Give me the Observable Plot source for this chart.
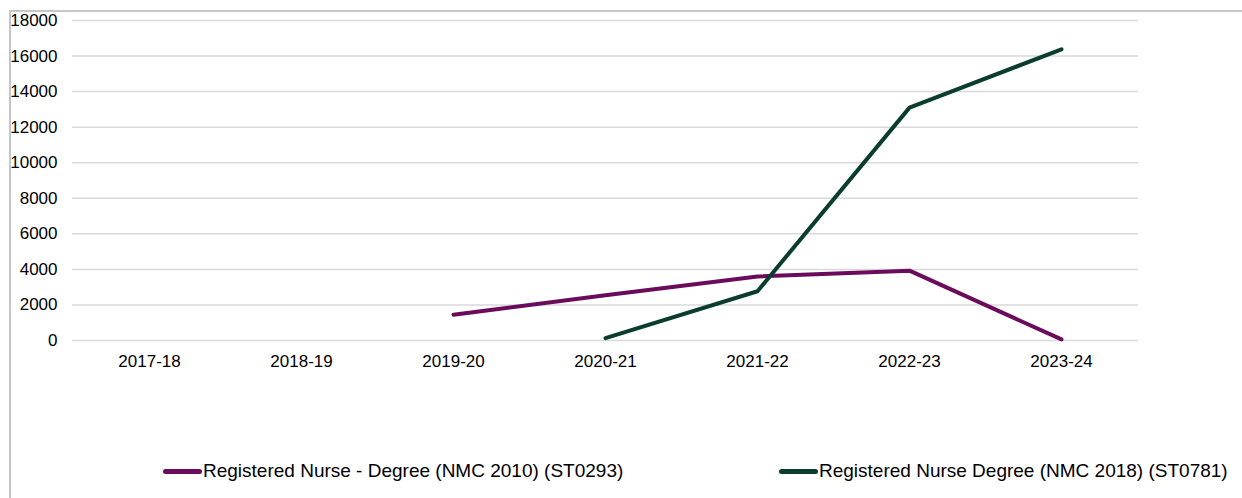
<!DOCTYPE html>
<html>
<head>
<meta charset="utf-8">
<script src="https://cdn.jsdelivr.net/npm/d3@7"></script>
<script src="https://cdn.jsdelivr.net/npm/@observablehq/plot@0.6"></script>
<style>
  html, body { margin: 0; padding: 0; background: #fff; overflow: hidden; }
  body { width: 1242px; height: 498px; position: relative; font-family: "Liberation Sans", Arial, sans-serif; }
  #frame { position: absolute; left: 9px; top: 10px; width: 1300px; height: 600px;
           border-top: 2px solid #c6c6c6; border-left: 2px solid #c6c6c6; }
  #chart { position: absolute; left: 0; top: 0; }
  #legend { position: absolute; top: 459px; left: 0; width: 1242px; height: 24px; font-size: 19px; line-height: 24px; color: #000; }
  .item { position: absolute; top: 0; height: 24px; display: flex; align-items: center; white-space: nowrap; }
  .swatch { width: 39px; height: 5px; border-radius: 2.5px; margin-right: 1px; }
</style>
</head>
<body>
<div id="frame"></div>
<div id="chart"></div>
<div id="legend"></div>
<script>
// Academic years on the x axis
const years = ["2017-18", "2018-19", "2019-20", "2020-21", "2021-22", "2022-23", "2023-24"];

// Starts per year for each apprenticeship standard (null = not yet running)
const nurse2010 = [null, null, 1450, 2550, 3600, 3930, 60];
const nurse2018 = [null, null, null, 130, 2770, 13100, 16380];

const seriesNames = [
  "Registered Nurse - Degree (NMC 2010) (ST0293)",
  "Registered Nurse Degree (NMC 2018) (ST0781)"
];
const seriesColors = ["#6b0b5b", "#0b3d2e"];

const yTicks = [0, 2000, 4000, 6000, 8000, 10000, 12000, 14000, 16000, 18000];

// Long-form rows for Plot, dropping years with no value
const rows = [];
[nurse2010, nurse2018].forEach((vals, i) => {
  vals.forEach((v, j) => {
    if (v != null) rows.push({ year: years[j], value: v, series: seriesNames[i] });
  });
});

const chart = Plot.plot({
  width: 1242,
  height: 380,
  marginLeft: 72,
  marginRight: 104,
  marginTop: 20,
  marginBottom: 40,
  style: { fontFamily: "'Liberation Sans', Arial, sans-serif", fontSize: "17px", color: "#000", background: "transparent" },
  x: { type: "point", domain: years, padding: 0.5, label: null, tickSize: 0, tickPadding: 15 },
  y: { domain: [0, 18000], ticks: yTicks, label: null, tickSize: 0, tickPadding: 15, tickFormat: d => String(d) },
  color: { domain: seriesNames, range: seriesColors },
  marks: [
    Plot.ruleY(yTicks, { stroke: "#d9d9d9", strokeWidth: 1.5, strokeOpacity: 1 }),
    Plot.axisX({ tickSize: 0, tickPadding: 14, label: null }),
    Plot.axisY({ ticks: yTicks, tickSize: 0, tickPadding: 15, label: null, tickFormat: d => String(d) }),
    Plot.line(rows, {
      x: "year", y: "value", z: "series", stroke: "series",
      strokeWidth: 4, strokeLinejoin: "round", strokeLinecap: "round"
    })
  ]
});
document.getElementById("chart").appendChild(chart);

// Legend row beneath the plot
const legend = document.getElementById("legend");
const legendX = [163, 779];
seriesNames.forEach((name, i) => {
  const item = document.createElement("div");
  item.className = "item";
  item.style.left = legendX[i] + "px";
  const sw = document.createElement("span");
  sw.className = "swatch";
  sw.style.background = seriesColors[i];
  const label = document.createElement("span");
  label.textContent = name;
  item.appendChild(sw);
  item.appendChild(label);
  legend.appendChild(item);
});
</script>
</body>
</html>
